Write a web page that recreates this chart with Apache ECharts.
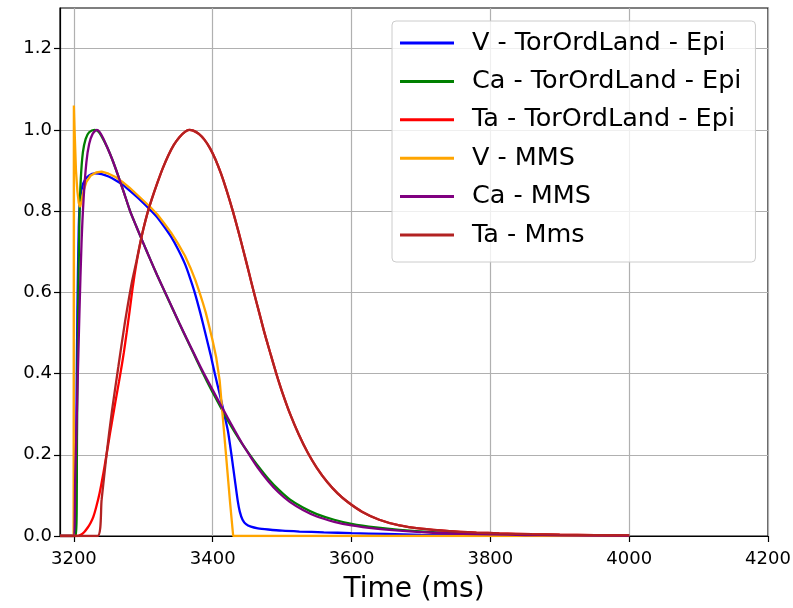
<!DOCTYPE html>
<html>
<head>
<meta charset="utf-8">
<script src="https://cdn.jsdelivr.net/npm/echarts@6/dist/echarts.min.js"></script>
<style>html,body{margin:0;padding:0;background:#fff}#c{width:793px;height:608px}</style>
</head>
<body>
<div id="c"></div>
<script>
const xTicks = [3200, 3400, 3600, 3800, 4000, 4200];
const yTicks = [0, 0.2, 0.4, 0.6, 0.8, 1.0, 1.2];

const seriesNames = ['V - TorOrdLand - Epi', 'Ca - TorOrdLand - Epi', 'Ta - TorOrdLand - Epi', 'V - MMS', 'Ca - MMS', 'Ta - Mms'];

const vTor = [[3180,0],[3202,0],[3203,0.15],[3205,0.55],[3207,0.76],[3209,0.83],[3212,0.86],[3216,0.877],[3222,0.888],[3230,0.893],[3240,0.891],[3250,0.885],[3260,0.876],[3270,0.865],[3280,0.851],[3290,0.836],[3300,0.82],[3310,0.803],[3320,0.785],[3330,0.762],[3340,0.737],[3350,0.706],[3360,0.67],[3367,0.637],[3374,0.6],[3382,0.55],[3390,0.495],[3397,0.446],[3403,0.4],[3410,0.35],[3416,0.305],[3422,0.258],[3427,0.2],[3432,0.137],[3436,0.087],[3439,0.06],[3443,0.04],[3448,0.029],[3455,0.023],[3465,0.019],[3480,0.016],[3500,0.013],[3525,0.011],[3560,0.009],[3600,0.007],[3650,0.005],[3700,0.003],[3800,0.0015],[3900,0.0007],[4000,0.0003]];
const caTor = [[3180,0],[3203,0],[3204.5,0.25],[3206,0.55],[3208,0.78],[3210,0.88],[3213,0.945],[3217,0.978],[3222,0.994],[3230,1.0],[3235,0.996],[3240,0.984],[3248,0.957],[3256,0.924],[3264,0.886],[3272,0.846],[3281,0.8],[3290,0.762],[3300,0.721],[3310,0.681],[3320,0.642],[3332,0.597],[3342,0.56],[3352,0.523],[3362,0.487],[3372,0.451],[3382,0.415],[3392,0.38],[3402,0.347],[3412,0.315],[3422,0.284],[3432,0.255],[3442,0.228],[3453,0.201],[3465,0.173],[3480,0.141],[3495,0.114],[3511,0.09],[3530,0.07],[3550,0.054],[3575,0.04],[3600,0.03],[3635,0.021],[3669,0.015],[3717,0.0095],[3760,0.007],[3800,0.005],[3850,0.003],[3900,0.002],[3950,0.0015],[4000,0.001]];
const taTor = [[3180,0],[3205,0],[3210,0.003],[3215,0.01],[3220,0.021],[3224,0.032],[3228,0.047],[3232,0.07],[3237,0.105],[3242,0.15],[3247,0.2],[3252,0.252],[3256,0.292],[3260,0.332],[3265,0.38],[3268.6,0.416],[3272,0.452],[3276,0.5],[3280,0.55],[3285,0.615],[3290,0.67],[3295,0.715],[3300,0.755],[3306,0.795],[3312,0.828],[3320,0.868],[3328,0.905],[3336,0.937],[3344,0.963],[3352,0.982],[3360,0.995],[3366,1.0],[3372,0.998],[3380,0.99],[3388,0.976],[3396,0.955],[3404,0.927],[3412,0.892],[3420,0.851],[3429,0.8],[3437,0.75],[3444.6,0.7],[3452,0.65],[3459.3,0.6],[3467,0.55],[3474.6,0.5],[3483,0.45],[3491.6,0.4],[3501,0.35],[3511.6,0.3],[3524,0.25],[3537,0.205],[3550,0.168],[3565,0.133],[3580,0.105],[3595,0.083],[3615,0.06],[3640,0.04],[3669,0.026],[3700,0.018],[3741,0.012],[3780,0.0085],[3813,0.0065],[3860,0.0045],[3900,0.0033],[3950,0.0022],[4000,0.0014]];
const vMms = [[3180,0],[3199.6,0],[3200,1.06],[3201,1.0],[3203,0.9],[3205,0.85],[3207,0.82],[3209,0.81],[3211,0.825],[3214,0.85],[3218,0.872],[3224,0.887],[3232,0.895],[3240,0.897],[3250,0.892],[3260,0.884],[3270,0.872],[3280,0.858],[3290,0.842],[3300,0.826],[3310,0.81],[3320,0.792],[3330,0.77],[3340,0.747],[3350,0.72],[3360,0.69],[3368,0.66],[3375,0.63],[3381,0.6],[3386,0.573],[3390,0.55],[3395,0.516],[3400,0.48],[3405,0.44],[3410,0.383],[3415,0.283],[3420,0.183],[3425,0.083],[3429.5,0],[4000,0]];
const caMms = [[3180,0],[3199,0],[3202,0.15],[3205,0.35],[3208,0.55],[3211,0.72],[3214,0.83],[3218,0.92],[3222,0.965],[3227,0.99],[3233,1.0],[3237,0.995],[3242,0.98],[3248,0.957],[3256,0.924],[3264,0.886],[3272,0.846],[3281,0.8],[3290,0.762],[3300,0.721],[3310,0.681],[3320,0.642],[3332,0.598],[3342,0.561],[3352,0.524],[3362,0.488],[3372,0.453],[3382,0.418],[3392,0.385],[3402,0.353],[3412,0.321],[3422,0.29],[3432,0.259],[3442,0.229],[3453,0.199],[3465,0.168],[3480,0.135],[3495,0.107],[3511,0.084],[3530,0.064],[3550,0.048],[3575,0.035],[3600,0.026],[3635,0.018],[3669,0.013],[3717,0.008],[3760,0.0055],[3800,0.004],[3850,0.0025],[3900,0.0015],[4000,0.0006]];
const taMms = [[3180,0],[3234,0],[3240,0.09],[3247,0.2],[3255,0.31],[3264,0.416],[3273,0.52],[3283,0.62],[3290,0.675],[3295,0.717],[3300,0.755],[3306,0.795],[3312,0.828],[3320,0.868],[3328,0.905],[3336,0.937],[3344,0.963],[3352,0.982],[3360,0.995],[3366,1.0],[3372,0.998],[3380,0.99],[3388,0.976],[3396,0.955],[3404,0.927],[3412,0.892],[3420,0.851],[3429,0.8],[3437,0.75],[3444.6,0.7],[3452,0.65],[3459.3,0.6],[3467,0.55],[3474.6,0.5],[3483,0.45],[3491.6,0.4],[3501,0.35],[3511.6,0.3],[3524,0.25],[3537,0.205],[3550,0.168],[3565,0.133],[3580,0.105],[3595,0.083],[3615,0.06],[3640,0.04],[3669,0.026],[3700,0.018],[3741,0.012],[3780,0.0085],[3813,0.0065],[3860,0.0045],[3900,0.0033],[3950,0.0022],[4000,0.0014]];

const allData = [vTor, caTor, taTor, vMms, caMms, taMms];
const colors = ['#0000ff', '#008000', '#ff0000', '#ffa500', '#800080', '#b22222'];
const smoothing = [0.2, 0.25, 0.25, 0, 0.25, 0.25];

const FONT = 'DejaVu Sans';
const chart = echarts.init(document.getElementById('c'), null, {renderer: 'canvas'});
chart.setOption({
  animation: false,
  backgroundColor: '#ffffff',
  grid: {left: 60, right: 25, top: 8, bottom: 72, show: true, borderColor: '#000', borderWidth: 1.2, backgroundColor: 'transparent', containLabel: false, outerBoundsMode: 'none'},
  xAxis: {
    type: 'value', min: 3180, max: 4200,
    name: 'Time (ms)', nameLocation: 'middle', nameGap: 40,
    nameTextStyle: {fontFamily: FONT, fontSize: 28, color: '#000'},
    axisLine: {show: true, onZero: false, lineStyle: {color: '#000', width: 1.2}},
    axisTick: {show: true, inside: false, length: 6, customValues: xTicks, lineStyle: {color: '#000', width: 1.2}},
    axisLabel: {customValues: xTicks, fontFamily: FONT, fontSize: 18, color: '#000', margin: 14, formatter: v => String(v)},
    splitLine: {show: true, lineStyle: {color: '#b0b0b0', width: 1.2}}
  },
  yAxis: {
    type: 'value', min: 0, max: 1.3,
    axisLine: {show: true, lineStyle: {color: '#000', width: 1.2}},
    axisTick: {show: true, inside: false, length: 6, customValues: yTicks, lineStyle: {color: '#000', width: 1.2}},
    axisLabel: {customValues: yTicks, fontFamily: FONT, fontSize: 18, color: '#000', margin: 8, formatter: v => v.toFixed(1)},
    splitLine: {show: true, lineStyle: {color: '#b0b0b0', width: 1.2}}
  },
  legend: {
    orient: 'vertical', left: 392, top: 21,
    padding: [9, 14, 14, 8],
    itemWidth: 54, itemHeight: 3, itemGap: 12.4,
    icon: 'rect',
    backgroundColor: 'rgba(255,255,255,0.8)', borderColor: '#cccccc', borderWidth: 1, borderRadius: 4,
    textStyle: {fontFamily: FONT, fontSize: 25.5, color: '#000', lineHeight: 26, padding: [0, 0, 0, 13]},
    data: seriesNames
  },
  series: seriesNames.map((n, i) => ({
    name: n, type: 'line', data: allData[i], showSymbol: false, symbol: 'none',
    clip: true, color: colors[i], smooth: smoothing[i],
    lineStyle: {color: colors[i], width: 2.3}
  }))
});
</script>
</body>
</html>
